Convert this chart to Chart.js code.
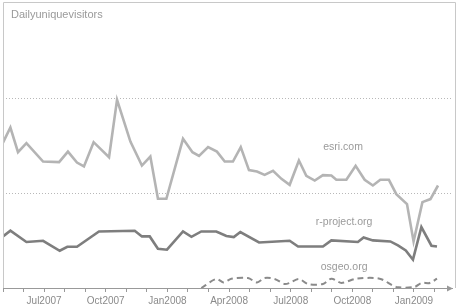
<!DOCTYPE html>
<html>
<head>
<meta charset="utf-8">
<script src="https://cdn.jsdelivr.net/npm/chart.js@4"></script>
<style>
  html, body { margin: 0; padding: 0; background: #fff; }
  #wrap { width: 457px; height: 307px; }
</style>
</head>
<body>
<div id="wrap"><canvas id="myChart" width="457" height="307"></canvas></div>
<script>
// x values are months counted from May 2007 (0 = May 2007)
const tickMonths = [2, 5, 8, 11, 14, 17, 20];
const tickLabels = ["Jul2007", "Oct2007", "Jan2008", "Apr2008", "Jul2008", "Oct2008", "Jan2009"];

const esriMonths = [0, 0.36, 0.73, 1.14, 1.95, 2.73, 3.16, 3.60, 3.94, 4.41, 5.16, 5.55, 6.20, 6.76, 7.17, 7.54, 7.95,
  8.76, 9.22, 9.54, 9.98, 10.41, 10.79, 11.19, 11.57, 11.97, 12.36, 12.73, 13.14, 13.55, 13.95, 14.40, 14.76, 15.17,
  15.57, 15.98, 16.22, 16.71, 17.16, 17.60, 18.00, 18.36, 18.78, 19.14, 19.66, 19.98, 20.41, 20.80, 21.17];
const esriVisitors = [1531, 1689, 1430, 1525, 1331, 1325, 1436, 1321, 1279, 1535, 1377, 1980, 1541, 1289, 1384, 939, 939,
  1570, 1430, 1391, 1483, 1436, 1331, 1331, 1483, 1241, 1226, 1191, 1233, 1149, 1086, 1342, 1181, 1131,
  1188, 1184, 1139, 1139, 1286, 1139, 1079, 1139, 1139, 988, 883, 490, 904, 936, 1079];

const rMonths = [0, 0.36, 1.14, 1.95, 2.76, 3.13, 3.60, 4.67, 6.41, 6.76, 7.14, 7.54, 7.98, 8.76, 9.17, 9.65, 10.38,
  10.87, 11.23, 11.55, 12.46, 13.95, 14.36, 15.57, 15.98, 17.27, 17.55, 18.00, 18.85, 19.22, 19.60, 19.95, 20.36, 20.85, 21.12];
const rVisitors = [543, 603, 484, 497, 392, 434, 434, 595, 603, 543, 543, 413, 403, 595, 539, 595, 595,
  547, 536, 589, 479, 497, 437, 437, 501, 484, 532, 501, 490, 448, 395, 298, 641, 445, 437];

const osgeoMonths = [9.65, 10.38, 10.74, 11.11, 11.92, 12.36, 12.73, 13.22, 13.70, 13.95, 14.40, 14.84, 15.57, 15.98,
  16.47, 17.20, 18.33, 19.14, 20.03, 20.36, 20.77, 21.12];
const osgeoVisitors = [0, 95, 59, 98, 105, 59, 105, 95, 42, 53, 95, 42, 42, 98, 53, 98, 98, 11, 11, 53, 53, 98];

const seriesNames = ["esri.com", "r-project.org", "osgeo.org"];
const FONT = "'Liberation Sans', Arial, sans-serif";

function toPoints(xs, ys) {
  return xs.map((x, i) => ({ x: x, y: ys[i] }));
}

// marco, flecha del eje, titulo y nombres de las series
const decorations = {
  id: "decorations",
  afterDraw(chart) {
    const c = chart.ctx;
    const a = chart.chartArea;
    const xs = chart.scales.x;
    const ys = chart.scales.y;
    c.save();
    c.strokeStyle = "#c8c8c8";
    c.lineWidth = 1;
    c.beginPath();
    c.moveTo(a.left + 0.5, a.bottom);
    c.lineTo(a.left + 0.5, a.top - 0.5);
    c.lineTo(chart.width - 1.5, a.top - 0.5);
    c.lineTo(chart.width - 1.5, a.bottom);
    c.stroke();

    // flecha al final del eje x
    c.fillStyle = "#999";
    c.beginPath();
    c.moveTo(a.right + 1, a.bottom + 0.5);
    c.lineTo(a.right - 5, a.bottom - 2.5);
    c.lineTo(a.right - 5, a.bottom + 3.5);
    c.closePath();
    c.fill();

    c.font = "11px " + FONT;
    c.fillStyle = "#9a9a9a";
    c.textAlign = "left";
    c.textBaseline = "middle";
    c.fillText("Dailyuniquevisitors", 11, 15);

    c.textAlign = "center";
    c.font = "10.5px " + FONT;
    const labelPos = [[16.55, 1486], [16.6, 697], [16.6, 224]];
    seriesNames.forEach((name, i) => {
      c.fillText(name, xs.getPixelForValue(labelPos[i][0]), ys.getPixelForValue(labelPos[i][1]));
    });
    c.restore();
  },
};

new Chart(document.getElementById("myChart"), {
  type: "line",
  data: {
    datasets: [
      {
        label: seriesNames[0],
        data: toPoints(esriMonths, esriVisitors),
        borderColor: "#b4b4b4",
        borderWidth: 2.6,
        pointRadius: 0,
        tension: 0,
      },
      {
        label: seriesNames[1],
        data: toPoints(rMonths, rVisitors),
        borderColor: "#7e7e7e",
        borderWidth: 2.6,
        pointRadius: 0,
        tension: 0,
      },
      {
        label: seriesNames[2],
        data: toPoints(osgeoMonths, osgeoVisitors),
        borderColor: "#8a8a8a",
        borderWidth: 2,
        borderDash: [6, 4],
        pointRadius: 0,
        tension: 0.3,
      },
    ],
  },
  options: {
    responsive: false,
    animation: false,
    layout: { padding: { left: 3, top: 3, right: 5, bottom: 0 } },
    scales: {
      x: {
        type: "linear",
        min: 0,
        max: 21.85,
        afterFit(scale) {
          scale.height = 19;
        },
        grid: { drawOnChartArea: false, drawTicks: true, tickLength: 4, color: "#999" },
        border: { color: "#999", width: 1 },
        ticks: {
          stepSize: 1,
          autoSkip: false,
          includeBounds: false,
          maxRotation: 0,
          padding: 3,
          color: "#8a8a8a",
          font: { family: FONT, size: 10 },
          callback: (value) => {
            const i = tickMonths.indexOf(value);
            return i >= 0 ? tickLabels[i] : "";
          },
        },
      },
      y: {
        min: 0,
        max: 3000,
        afterFit(scale) {
          scale.width = 0;
        },
        ticks: { display: false, stepSize: 1000 },
        border: { display: false, dash: [1, 2] },
        grid: {
          drawTicks: false,
          color: (ctx) => (ctx.tick && (ctx.tick.value === 1000 || ctx.tick.value === 2000) ? "#b8b8b8" : "rgba(0,0,0,0)"),
        },
      },
    },
    plugins: {
      legend: { display: false },
      tooltip: { enabled: false },
    },
  },
  plugins: [decorations],
});
</script>
</body>
</html>
